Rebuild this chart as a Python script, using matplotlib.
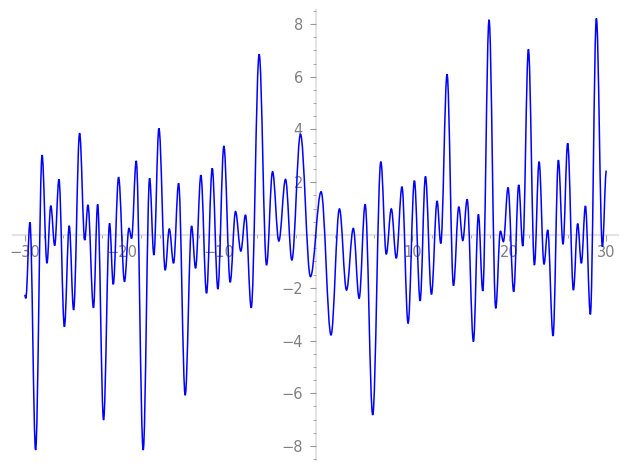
import matplotlib
matplotlib.use("Agg")
import matplotlib.pyplot as plt
from matplotlib.path import Path
from matplotlib.patches import PathPatch
from matplotlib.ticker import MultipleLocator

# turning points of the curve (x, y)
turn_x = [-30.0, -29.88, -29.45, -28.87, -28.2, -27.7, -27.3, -26.9, -26.46, -25.9,
          -25.4, -24.95, -24.33, -23.8, -23.47, -22.9, -22.47, -21.86, -21.24, -20.86,
          -20.31, -19.7, -19.24, -18.97, -18.49, -17.77, -17.11, -16.67, -16.15, -15.5,
          -15.08, -14.64, -14.12, -13.44, -12.78, -12.37, -11.82, -11.24, -10.65, -10.07,
          -9.45, -8.8, -8.25, -7.7, -7.22, -6.63, -5.81, -5.05, -4.43, -3.78,
          -3.09, -2.44, -1.55, -0.52, 0.58, 1.6, 2.47, 3.2, 3.9, 4.5,
          5.12, 5.9, 6.74, 7.3, 7.82, 8.33, 8.92, 9.55, 10.2, 10.79,
          11.34, 11.96, 12.54, 12.92, 13.57, 14.23, 14.78, 15.19, 15.64, 16.29,
          16.8, 17.25, 17.9, 18.59, 19.07, 19.38, 19.86, 20.44, 20.96, 21.38,
          21.96, 22.58, 23.06, 23.57, 23.95, 24.5, 25.05, 25.53, 26.01, 26.6,
          27.04, 27.42, 27.84, 28.35, 28.97, 29.59, 30.0]
turn_y = [-2.27, -2.4, 0.48, -8.15, 3.03, -1.07, 1.11, -0.4, 2.11, -3.48,
          0.35, -2.84, 3.86, -0.19, 1.14, -2.76, 1.16, -7.01, 0.44, -1.87,
          2.19, -1.77, 0.25, -0.13, 2.81, -8.15, 2.15, -0.76, 4.04, -1.33,
          0.23, -1.07, 1.96, -6.07, 0.34, -1.26, 2.27, -2.21, 2.53, -2.05,
          3.37, -1.79, 0.89, -0.61, 0.76, -2.76, 6.85, -1.14, 2.4, -0.23,
          2.11, -0.95, 3.82, -1.58, 1.64, -3.79, 0.99, -2.09, 0.25, -2.4,
          1.16, -6.82, 2.78, -0.73, 0.99, -0.88, 1.83, -3.35, 2.06, -2.5,
          2.22, -2.25, 1.29, -0.32, 6.09, -1.92, 1.07, -0.21, 1.35, -4.04,
          0.78, -2.12, 8.16, -2.78, 0.15, -0.25, 1.8, -2.15, 1.9, -0.42,
          7.04, -1.14, 2.78, -1.11, 0.19, -3.83, 2.84, -0.35, 3.48, -2.09,
          0.43, -1.07, 1.1, -3.01, 8.21, -0.44, 2.44]

x_major = [-30, -20, -10, 10, 20, 30]
y_major = [-8, -6, -4, -2, 2, 4, 6, 8]

fig = plt.figure(figsize=(6.27, 4.70), dpi=100)
ax = fig.add_axes([13 / 627, 10 / 470, 605 / 627, 450 / 470])

# smooth curve: cubic Bezier segments with flat tangents at each turning point
verts = [(turn_x[0], turn_y[0])]
codes = [Path.MOVETO]
for i in range(1, len(turn_x)):
    x0, y0 = turn_x[i - 1], turn_y[i - 1]
    x1, y1 = turn_x[i], turn_y[i]
    d = 0.363 * (x1 - x0)
    verts += [(x0 + d, y0), (x1 - d, y1), (x1, y1)]
    codes += [Path.CURVE4] * 3
ax.add_patch(PathPatch(Path(verts, codes), facecolor="none",
                       edgecolor="blue", lw=1.1, zorder=3))

ax.set_xlim(-31.2, 31.2)
ax.set_ylim(-8.53, 8.53)

for side in ["top", "right"]:
    ax.spines[side].set_visible(False)
ax.spines["left"].set_position(("data", 0))
ax.spines["bottom"].set_position(("data", 0))
for side in ["left", "bottom"]:
    ax.spines[side].set_color("#e3e3e3")
    ax.spines[side].set_linewidth(1.5)
    ax.spines[side].set_zorder(1)

ax.set_xticks(x_major)
ax.set_xticklabels(["\u2212%d" % -v if v < 0 else str(v) for v in x_major])
ax.set_yticks(y_major)
ax.set_yticklabels(["\u2212%d" % -v if v < 0 else str(v) for v in y_major])
ax.xaxis.set_minor_locator(MultipleLocator(2))
ax.yaxis.set_minor_locator(MultipleLocator(0.5))

ax.tick_params(which="major", length=4, width=0.8, color="#999999",
               labelcolor="#808080", labelsize=10.5, direction="out")
ax.tick_params(which="minor", length=2, width=0.6, color="#999999", direction="out")
ax.tick_params(axis="x", pad=3)
ax.tick_params(axis="y", pad=5)
ax.set_facecolor("white")

fig.savefig("out.png", dpi=100)
